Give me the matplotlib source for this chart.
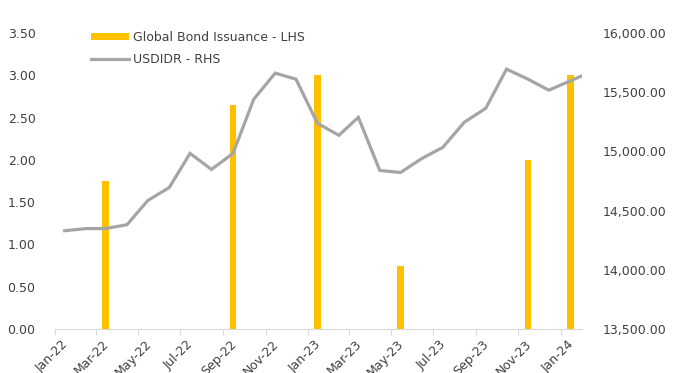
import numpy as np
import pandas as pd
import matplotlib
matplotlib.use("Agg")
import matplotlib.pyplot as plt
import matplotlib.transforms as mtransforms

# dados
datas_bond = pd.to_datetime(["2022-03-15", "2022-09-15", "2023-01-15",
                             "2023-05-15", "2023-11-15", "2024-01-15"])
emissao_bond = [1.75, 2.65, 3.00, 0.75, 2.00, 3.00]

datas_kurs = list(pd.date_range("2022-01-01", "2023-12-01", freq="MS") + pd.Timedelta(days=14))
datas_kurs.append(pd.Timestamp("2024-01-31"))
usdidr = [14330, 14348, 14348, 14381, 14585, 14695, 14983, 14848, 14983, 15441,
          15661, 15610, 15237, 15136, 15288, 14839, 14822, 14941, 15034, 15246,
          15364, 15695, 15610, 15517, 15636]

ticks_x = pd.date_range("2022-01-01", "2024-01-01", freq="2MS")
labels_x = [d.strftime("%b-%y") for d in ticks_x]

cor_bar = "#FFC000"
cor_linha = "#A5A5A5"
cor_texto = "#404040"
cor_eixo = "#D9D9D9"

plt.rcParams["font.family"] = ["DejaVu Sans"]
plt.rcParams["font.size"] = 9

fig = plt.figure(figsize=(6.8, 3.73), dpi=100)
ax = fig.add_axes([55 / 680, 1 - 329 / 373, (582 - 55) / 680, (329 - 33) / 373])
ax2 = ax.twinx()

barras = ax.bar(datas_bond, emissao_bond, width=10, color=cor_bar,
                label="Global Bond Issuance - LHS")
linha, = ax2.plot(datas_kurs, usdidr, color=cor_linha, lw=2.3,
                  label="USDIDR - RHS", solid_joinstyle="miter")

ax.set_xlim(pd.Timestamp("2022-01-01"), pd.Timestamp("2024-02-01"))
ax.set_ylim(0, 3.5)
ax.set_yticks(np.arange(0, 3.51, 0.5))
ax.yaxis.set_major_formatter(matplotlib.ticker.FormatStrFormatter("%.2f"))
ax2.set_ylim(13500, 16000)
ax2.set_yticks(np.arange(13500, 16001, 500))
ax2.yaxis.set_major_formatter(matplotlib.ticker.FuncFormatter(lambda v, p: f"{v:,.2f}"))

for a in (ax, ax2):
    for s in a.spines.values():
        s.set_visible(False)
ax.spines["bottom"].set_visible(True)
ax.spines["bottom"].set_color(cor_eixo)
ax.tick_params(axis="x", colors=cor_eixo, labelcolor=cor_texto, length=4, width=0.8, pad=2)
ax.tick_params(axis="y", length=0, pad=14, labelcolor=cor_texto)
ax2.tick_params(axis="y", length=0, pad=15, labelcolor=cor_texto)

ax.set_xticks(ticks_x)
ax.set_xticklabels(labels_x, rotation=45, ha="right", rotation_mode="anchor",
                   va="center")
# desloca os rotulos (depois do tick_params, senao ele reseta)
deslocamento = mtransforms.ScaledTranslation(11 / 100, -5 / 100, fig.dpi_scale_trans)
for lbl in ax.get_xticklabels():
    lbl.set_transform(lbl.get_transform() + deslocamento)

fig.legend(handles=[barras, linha], loc="upper left",
           bbox_to_anchor=(91 / 680, 1 - 31 / 373), frameon=False,
           borderpad=0, borderaxespad=0, handlelength=3.0, handleheight=0.55,
           handletextpad=0.35, labelspacing=0.7, labelcolor=cor_texto)

fig.savefig("out.png", dpi=100)
